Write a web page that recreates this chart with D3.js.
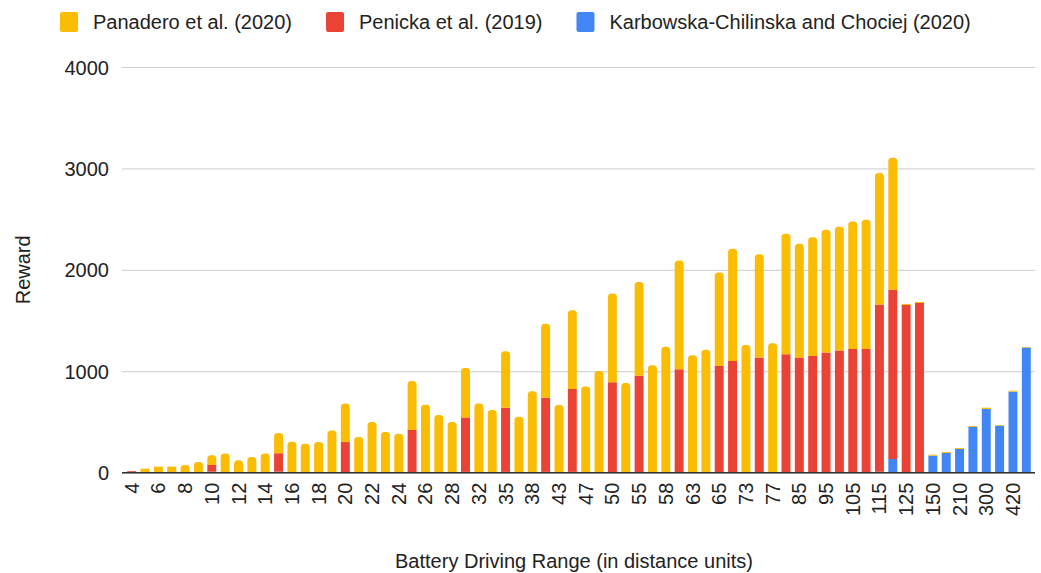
<!DOCTYPE html>
<html>
<head>
<meta charset="utf-8">
<script src="https://cdn.jsdelivr.net/npm/d3@7"></script>
<style>
  body { margin: 0; background: #fff; }
  svg { font-family: "Liberation Sans", Arial, sans-serif; }
  .grid line { stroke: #ccc; }
  .grid .domain { display: none; }
  .y.axis .domain, .y.axis line, .x.axis .domain, .x.axis line { display: none; }
  .axis text { fill: #222; font-size: 20px; }
</style>
</head>
<body>
<div id="chart"></div>
<script>
// Battery driving range categories (every other one gets a label)
const categories = ['4', '5', '6', '7', '8', '9', '10', '11', '12', '13', '14', '15', '16', '17',
  '18', '19', '20', '21', '22', '23', '24', '25', '26', '27', '28', '30', '32', '33', '35', '36',
  '38', '40', '43', '45', '47', '48', '50', '53', '55', '57', '58', '60', '63', '64', '65', '70',
  '73', '75', '77', '80', '85', '90', '95', '100', '105', '110', '115', '120', '125', '130',
  '150', '180', '210', '250', '300', '360', '420', '500'];
const panadero = [0, 34, 54, 54, 70, 100, 96, 183, 117, 150, 183, 199, 298, 279,
  296, 411, 380, 345, 494, 395, 378, 483, 663, 564, 494, 488, 677, 611, 558, 545,
  796, 730, 661, 776, 845, 997, 875, 878, 925, 1053, 1237, 1072, 1152, 1205, 921, 1105,
  1254, 1020, 1270, 1187, 1122, 1171, 1211, 1220, 1257, 1273, 1299, 1302, 9, 10,
  9, 10, 9, 9, 13, 6, 10, 6];
const penicka = [15, 6, 6, 6, 6, 6, 66, 6, 6, 6, 6, 182, 6, 6,
  6, 6, 297, 6, 6, 6, 6, 415, 6, 6, 6, 537, 6, 6, 632, 6,
  6, 731, 6, 817, 6, 6, 883, 6, 947, 6, 6, 1012, 6, 6, 1045, 1094,
  6, 1127, 6, 1160, 1135, 1143, 1184, 1196, 1212, 1212, 1645, 1668, 1655, 1666,
  0, 0, 0, 0, 0, 0, 0, 0];
const karbowska = [0, 0, 0, 0, 0, 0, 10, 0, 0, 0, 0, 10, 0, 0,
  0, 0, 5, 0, 0, 0, 0, 6, 0, 0, 0, 8, 0, 0, 8, 0,
  0, 8, 0, 8, 0, 0, 8, 0, 8, 0, 0, 8, 0, 0, 8, 8,
  0, 8, 0, 8, 0, 8, 0, 8, 8, 8, 10, 135, 0, 8,
  168, 194, 234, 451, 628, 464, 799, 1234];
const seriesNames = ['Panadero et al. (2020)', 'Penicka et al. (2019)', 'Karbowska-Chilinska and Chociej (2020)'];
const seriesColors = ['#fbbc04', '#ea4335', '#4285f4'];
const yTicks = [0, 1000, 2000, 3000, 4000];

function roundedTop(x, y0, y1, w, r) {
  // Bar with rounded top corners; y1 is the top (smaller) coordinate.
  r = Math.min(r, w / 2, (y0 - y1) / 2);
  return `M${x},${y0}V${y1 + r}A${r},${r} 0 0 1 ${x + r},${y1}` +
    `H${x + w - r}A${r},${r} 0 0 1 ${x + w},${y1 + r}V${y0}Z`;
}

function plot() {
  const totalW = 1041, totalH = 573;
  const margin = {top: 67, right: 8, bottom: 100, left: 125};
  const width = totalW - margin.left - margin.right;
  const height = totalH - margin.top - margin.bottom - 0.3;

  const svg = d3.select('#chart').append('svg')
    .attr('width', totalW)
    .attr('height', totalH);
  const g = svg.append('g')
    .attr('transform', `translate(${margin.left},${margin.top})`);

  const xScale = d3.scaleBand()
    .domain(categories)
    .range([0, width])
    .paddingInner(0.33)
    .paddingOuter(0.165);
  const yScale = d3.scaleLinear()
    .domain([0, 4000])
    .range([height, 0]);

  // Grid
  g.append('g')
    .attr('class', 'grid')
    .attr('transform', 'translate(-3,0)')
    .call(d3.axisLeft(yScale).tickValues(yTicks).tickSize(-(width + 5)).tickFormat(''));

  // Y axis labels
  g.append('g')
    .attr('class', 'y axis')
    .attr('transform', 'translate(-16,0)')
    .call(d3.axisLeft(yScale).tickValues(yTicks).tickSize(0).tickPadding(0).tickFormat(d3.format('d')))
    .selectAll('text')
    .attr('dy', '0.35em');

  // Stacked bars: Karbowska bottom, Penicka middle, Panadero top
  const rows = categories.map((c, i) => ({
    cat: c, k: karbowska[i], pe: penicka[i], pa: panadero[i]
  }));
  const stack = d3.stack().keys(['k', 'pe', 'pa'])(rows);
  const layerColor = {k: seriesColors[2], pe: seriesColors[1], pa: seriesColors[0]};
  const bw = xScale.bandwidth();
  stack.forEach(layer => {
    g.append('g')
      .selectAll('path')
      .data(layer.filter(d => d[1] > d[0]))
      .enter().append('path')
      .attr('fill', layerColor[layer.key])
      .attr('d', d => {
        const x = xScale(d.data.cat);
        const y0 = yScale(d[0]);
        const y1 = yScale(d[1]);
        return layer.key === 'pa' && y0 - y1 > 6 ? roundedTop(x, y0, y1, bw, 3.5)
          : `M${x},${y0}V${y1}H${x + bw}V${y0}Z`;
      });
  });

  // Baseline
  g.append('line')
    .attr('x1', -3)
    .attr('x2', width + 2)
    .attr('y1', yScale(0))
    .attr('y2', yScale(0))
    .style('stroke', '#333')
    .style('stroke-width', 1.6);

  // X axis labels, every other category, rotated
  const labelled = categories.filter((_, i) => i % 2 === 0);
  g.append('g')
    .attr('class', 'x axis')
    .attr('transform', `translate(0,${height})`)
    .call(d3.axisBottom(xScale).tickValues(labelled).tickSize(0).tickPadding(0))
    .selectAll('text')
    .attr('transform', 'translate(0,10) rotate(-90)')
    .attr('text-anchor', 'end')
    .attr('x', 0)
    .attr('y', 0)
    .attr('dy', '0.35em');

  // Axis titles
  svg.append('text')
    .attr('transform', `translate(30,${margin.top + height / 2}) rotate(-90)`)
    .attr('text-anchor', 'middle')
    .style('font-size', '20px')
    .style('fill', '#222')
    .text('Reward');
  svg.append('text')
    .attr('x', margin.left + width / 2 - 5)
    .attr('y', 568)
    .attr('text-anchor', 'middle')
    .style('font-size', '20px')
    .style('fill', '#222')
    .text('Battery Driving Range (in distance units)');

  // Legend
  const legend = svg.append('g').attr('class', 'legend');
  let lx = 60;
  seriesNames.forEach((name, i) => {
    legend.append('rect')
      .attr('x', lx)
      .attr('y', 12)
      .attr('width', 18)
      .attr('height', 20)
      .attr('rx', 2)
      .style('fill', seriesColors[i]);
    const t = legend.append('text')
      .attr('x', lx + 33)
      .attr('y', 22)
      .attr('dy', '0.35em')
      .style('font-size', '20px')
      .style('fill', '#222')
      .text(name);
    lx += 33 + t.node().getComputedTextLength() + 34;
  });
}

plot();
</script>
</body>
</html>
